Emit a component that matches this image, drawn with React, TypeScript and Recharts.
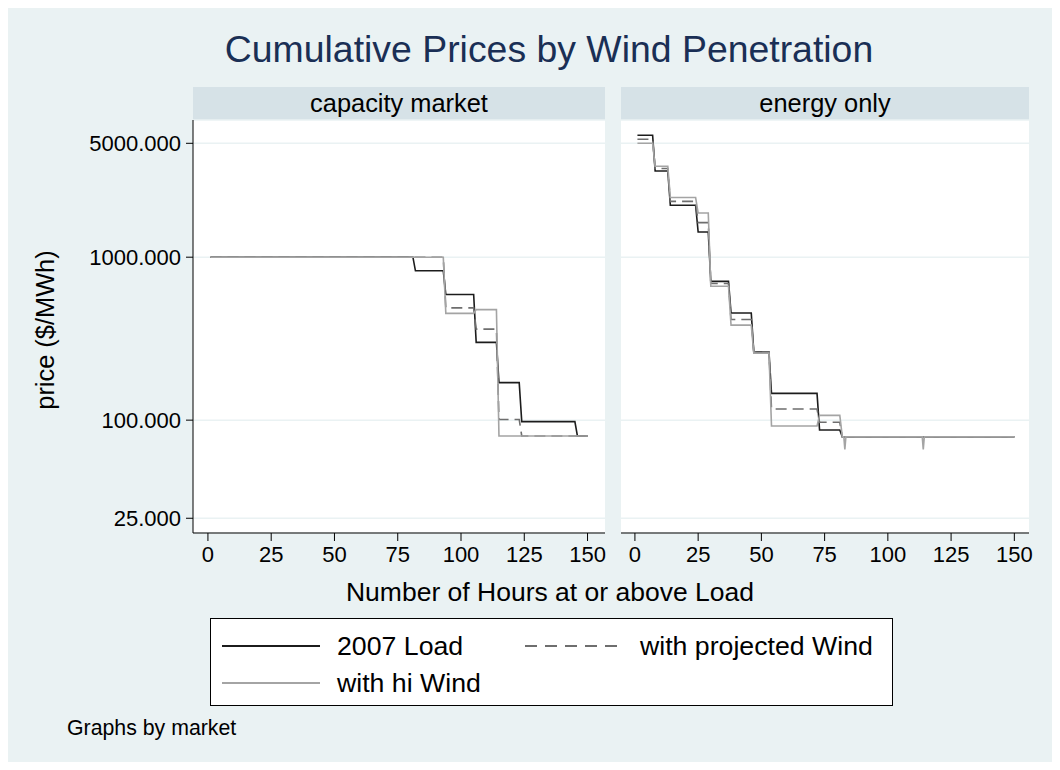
import React from 'react';
import { LineChart, Line, XAxis, YAxis, CartesianGrid } from 'recharts';

const FONT = '"Liberation Sans", Arial, Helvetica, sans-serif';

// ---- labels ----
const chartTitle = 'Cumulative Prices by Wind Penetration';
const panelTitles = ['capacity market', 'energy only'];
const xAxisTitle = 'Number of Hours at or above Load';
const yAxisTitle = 'price ($/MWh)';
const seriesNames = ['2007 Load', 'with projected Wind', 'with hi Wind'];
const noteText = 'Graphs by market';
const xTicks = [0, 25, 50, 75, 100, 125, 150];
const yTicks = [25, 100, 1000, 5000];

// ---- capacity market ----
const capLoadHours = [1, 81, 82, 93, 94, 105, 106, 114, 115, 123, 124, 145, 146, 150];
const capLoadPrice = [1000, 1000, 825, 825, 590, 590, 300, 300, 170, 170, 98, 98, 80, 80];
const capProjHours = [1, 93, 94, 105, 106, 114, 115, 123, 124, 150];
const capProjPrice = [1000, 1000, 489, 489, 362, 362, 101, 101, 80, 80];
const capHiHours = [1, 93, 94, 105, 106, 114, 115, 150];
const capHiPrice = [1000, 1000, 452, 452, 477, 477, 80, 80];

// ---- energy only ----
const enLoadHours = [1, 7, 8, 13, 14, 24, 25, 29, 30, 37, 38, 46, 47, 53, 54, 72, 73, 81, 82, 150];
const enLoadPrice = [5600, 5600, 3380, 3380, 2083, 2083, 1428, 1428, 711, 711, 455, 455, 262, 262, 146, 146, 87, 87, 79, 79];
const enProjHours = [1, 7, 8, 13, 14, 24, 25, 29, 30, 37, 38, 46, 47, 53, 54, 72, 73, 81, 82, 150];
const enProjPrice = [5300, 5300, 3500, 3500, 2200, 2200, 1630, 1630, 689, 689, 415, 415, 262, 262, 117, 117, 97, 97, 79, 79];
const enHiHours = [1, 7, 8, 13, 14, 24, 25, 29, 30, 37, 38, 46, 47, 53, 54, 72, 73, 81, 82, 82.6, 83, 83.4, 113.6, 114, 114.4, 150];
const enHiPrice = [5000, 5000, 3615, 3615, 2324, 2324, 1866, 1866, 664, 664, 383, 383, 258, 258, 92, 92, 107, 107, 79, 79, 66, 79, 79, 66, 79, 79];

const toPoints = (hours: number[], prices: number[]) => hours.map((x, i) => ({ x, y: prices[i] }));

const COLORS = { load: '#1c1c1c', proj: '#6e6e6e', hi: '#a4a4a4' };
const BG = '#eaf2f3';
const STRIP = '#d6e2e7';
const NAVY = '#1a2f55';

type PanelProps = {
  left: number;
  width: number;
  marginLeft: number;
  marginRight: number;
  showY: boolean;
  xDomain: [number, number];
  load: { x: number; y: number }[];
  proj: { x: number; y: number }[];
  hi: { x: number; y: number }[];
};

function Panel(p: PanelProps) {
  return (
    <div style={{ position: 'absolute', left: p.left, top: 0 }}>
      <LineChart
        width={p.width}
        height={600}
        margin={{ top: 120, right: p.marginRight, bottom: 0, left: p.marginLeft }}
      >
        <CartesianGrid vertical={false} stroke={BG} strokeWidth={1.5} fill="#ffffff" fillOpacity={1} />
        <XAxis
          type="number"
          dataKey="x"
          domain={p.xDomain}
          ticks={xTicks}
          allowDataOverflow
          height={67}
          stroke="#000"
          tickSize={8}
          tickMargin={5}
          tick={{ fontSize: 22, fill: '#000', fontFamily: FONT }}
        />
        <YAxis
          type="number"
          dataKey="y"
          scale="log"
          domain={[20.3, 6950]}
          allowDataOverflow
          ticks={yTicks}
          width={p.showY ? 193 : 0}
          hide={!p.showY}
          stroke="#000"
          tickSize={7}
          tickMargin={5}
          tickFormatter={(v: number) => v.toFixed(3)}
          tick={{ fontSize: 22, fill: '#000', fontFamily: FONT }}
        />
        <Line data={p.load} dataKey="y" type="linear" stroke={COLORS.load} strokeWidth={1.6} dot={false} isAnimationActive={false} name={seriesNames[0]} />
        <Line data={p.proj} dataKey="y" type="linear" stroke={COLORS.proj} strokeWidth={1.6} strokeDasharray="11 6" dot={false} isAnimationActive={false} name={seriesNames[1]} />
        <Line data={p.hi} dataKey="y" type="linear" stroke={COLORS.hi} strokeWidth={1.6} dot={false} isAnimationActive={false} name={seriesNames[2]} />
      </LineChart>
    </div>
  );
}

function LegendItem({ name, dash, color, left, top }: { name: string; dash?: string; color: string; left: number; top: number }) {
  return (
    <div style={{ position: 'absolute', left, top, height: 30, display: 'flex', alignItems: 'center' }}>
      <svg width={100} height={30} style={{ display: 'block' }}>
        <line x1={0} y1={15} x2={98} y2={15} stroke={color} strokeWidth={1.8} strokeDasharray={dash} />
      </svg>
      <span style={{ marginLeft: 15, fontSize: 26.7, fontFamily: FONT, color: '#000', whiteSpace: 'nowrap' }}>{name}</span>
    </div>
  );
}

export default function App() {
  const text = (style: React.CSSProperties): React.CSSProperties => ({
    position: 'absolute',
    fontFamily: FONT,
    whiteSpace: 'nowrap',
    ...style,
  });
  return (
    <div style={{ position: 'absolute', left: 0, top: 0, width: 1060, height: 770, background: '#fff', overflow: 'hidden' }}>
      <div style={{ position: 'absolute', left: 8, top: 8, width: 1044, height: 754, background: BG }} />
      <div style={text({ left: 149, width: 800, top: 31, textAlign: 'center', fontSize: 37.4, lineHeight: '37px', color: NAVY })}>
        {chartTitle}
      </div>
      <div style={text({ left: 193, top: 87, width: 412, height: 33, background: STRIP, textAlign: 'center', fontSize: 25.4, lineHeight: '33px', color: '#000' })}>
        {panelTitles[0]}
      </div>
      <div style={text({ left: 621, top: 87, width: 408, height: 33, background: STRIP, textAlign: 'center', fontSize: 25.4, lineHeight: '33px', color: '#000' })}>
        {panelTitles[1]}
      </div>
      <Panel
        left={0}
        width={620}
        marginLeft={0}
        marginRight={15}
        showY={true}
        xDomain={[-5.9, 156.9]}
        load={toPoints(capLoadHours, capLoadPrice)}
        proj={toPoints(capProjHours, capProjPrice)}
        hi={toPoints(capHiHours, capHiPrice)}
      />
      <Panel
        left={600}
        width={440}
        marginLeft={21}
        marginRight={11}
        showY={false}
        xDomain={[-5.5, 155.8]}
        load={toPoints(enLoadHours, enLoadPrice)}
        proj={toPoints(enProjHours, enProjPrice)}
        hi={toPoints(enHiHours, enHiPrice)}
      />
      <div style={text({ left: 45 - 150, top: 330 - 15, width: 300, height: 30, lineHeight: '30px', textAlign: 'center', fontSize: 25.4, transform: 'rotate(-90deg)', color: '#000' })}>
        {yAxisTitle}
      </div>
      <div style={text({ left: 550 - 300, top: 592 - 15, width: 600, height: 30, lineHeight: '30px', textAlign: 'center', fontSize: 26.5, color: '#000' })}>
        {xAxisTitle}
      </div>
      <div style={{ position: 'absolute', left: 210, top: 618, width: 683, height: 88, background: '#fff', border: '1px solid #000', boxSizing: 'border-box' }}>
        <LegendItem name={seriesNames[0]} color={COLORS.load} left={11} top={12} />
        <LegendItem name={seriesNames[1]} color={COLORS.proj} dash="12 8" left={314} top={12} />
        <LegendItem name={seriesNames[2]} color={COLORS.hi} left={11} top={49} />
      </div>
      <div style={text({ left: 67, top: 728 - 11, height: 22, lineHeight: '22px', fontSize: 21.3, color: '#000' })}>
        {noteText}
      </div>
    </div>
  );
}
